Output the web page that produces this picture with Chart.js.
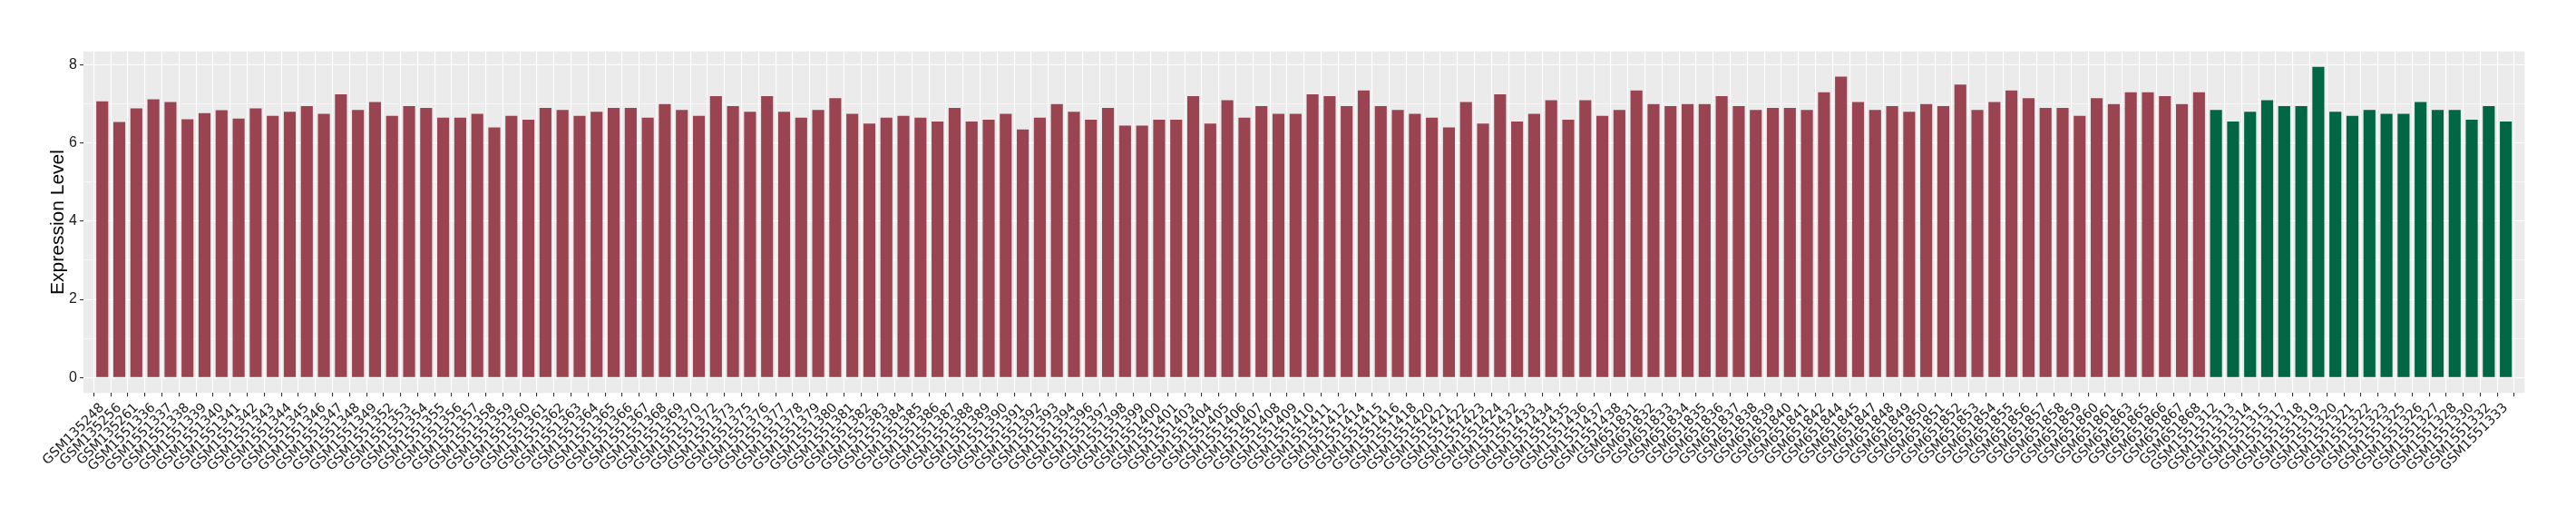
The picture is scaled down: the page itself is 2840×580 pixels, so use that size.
<!DOCTYPE html>
<html>
<head>
<meta charset="utf-8">
<script src="https://cdn.jsdelivr.net/npm/chart.js@4.4.1/dist/chart.umd.min.js"></script>
<style>
  html, body { margin: 0; padding: 0; background: #ffffff; }
  #wrap { width: 2840px; height: 580px; }
</style>
</head>
<body>
<div id="wrap"><canvas id="c" width="2840" height="580"></canvas></div>
<script>
const categories = [
  'GSM135248','GSM135256','GSM135261','GSM1551336','GSM1551337','GSM1551338','GSM1551339','GSM1551340','GSM1551341','GSM1551342',
  'GSM1551343','GSM1551344','GSM1551345','GSM1551346','GSM1551347','GSM1551348','GSM1551349','GSM1551352','GSM1551353','GSM1551354',
  'GSM1551355','GSM1551356','GSM1551357','GSM1551358','GSM1551359','GSM1551360','GSM1551361','GSM1551362','GSM1551363','GSM1551364',
  'GSM1551365','GSM1551366','GSM1551367','GSM1551368','GSM1551369','GSM1551370','GSM1551372','GSM1551373','GSM1551375','GSM1551376',
  'GSM1551377','GSM1551378','GSM1551379','GSM1551380','GSM1551381','GSM1551382','GSM1551383','GSM1551384','GSM1551385','GSM1551386',
  'GSM1551387','GSM1551388','GSM1551389','GSM1551390','GSM1551391','GSM1551392','GSM1551393','GSM1551394','GSM1551396','GSM1551397',
  'GSM1551398','GSM1551399','GSM1551400','GSM1551401','GSM1551403','GSM1551404','GSM1551405','GSM1551406','GSM1551407','GSM1551408',
  'GSM1551409','GSM1551410','GSM1551411','GSM1551412','GSM1551414','GSM1551415','GSM1551416','GSM1551418','GSM1551420','GSM1551421',
  'GSM1551422','GSM1551423','GSM1551424','GSM1551432','GSM1551433','GSM1551434','GSM1551435','GSM1551436','GSM1551437','GSM1551438',
  'GSM651831','GSM651832','GSM651833','GSM651834','GSM651835','GSM651836','GSM651837','GSM651838','GSM651839','GSM651840',
  'GSM651841','GSM651842','GSM651844','GSM651845','GSM651847','GSM651848','GSM651849','GSM651850','GSM651851','GSM651852',
  'GSM651853','GSM651854','GSM651855','GSM651856','GSM651857','GSM651858','GSM651859','GSM651860','GSM651861','GSM651863',
  'GSM651865','GSM651866','GSM651867','GSM651868',
  'GSM1551312','GSM1551313','GSM1551314','GSM1551315','GSM1551317','GSM1551318','GSM1551319','GSM1551320','GSM1551321','GSM1551322',
  'GSM1551323','GSM1551325','GSM1551326','GSM1551327','GSM1551328','GSM1551330','GSM1551332','GSM1551333'
];

const expressionValues = [
  7.07, 6.54, 6.89, 7.12, 7.05, 6.61, 6.77, 6.84, 6.63, 6.89,
  6.70, 6.80, 6.95, 6.75, 7.25, 6.85, 7.05, 6.70, 6.95, 6.90,
  6.65, 6.65, 6.75, 6.40, 6.70, 6.60, 6.90, 6.85, 6.70, 6.80,
  6.90, 6.90, 6.65, 7.00, 6.85, 6.70, 7.20, 6.95, 6.80, 7.20,
  6.80, 6.65, 6.85, 7.15, 6.75, 6.50, 6.65, 6.70, 6.65, 6.55,
  6.90, 6.55, 6.60, 6.75, 6.35, 6.65, 7.00, 6.80, 6.60, 6.90,
  6.45, 6.45, 6.60, 6.60, 7.20, 6.50, 7.10, 6.65, 6.95, 6.75,
  6.75, 7.25, 7.20, 6.95, 7.35, 6.95, 6.85, 6.75, 6.65, 6.40,
  7.05, 6.50, 7.25, 6.55, 6.75, 7.10, 6.60, 7.10, 6.70, 6.85,
  7.35, 7.00, 6.95, 7.00, 7.00, 7.20, 6.95, 6.85, 6.90, 6.90,
  6.85, 7.30, 7.70, 7.05, 6.85, 6.95, 6.80, 7.00, 6.95, 7.50,
  6.85, 7.05, 7.35, 7.15, 6.90, 6.90, 6.70, 7.15, 7.00, 7.30,
  7.30, 7.20, 7.00, 7.30,
  6.85, 6.55, 6.80, 7.10, 6.95, 6.95, 7.95, 6.80, 6.70, 6.85,
  6.75, 6.75, 7.05, 6.85, 6.85, 6.60, 6.95, 6.55
];

// number of samples in the first (red) group; the rest are the second (green) group
const firstGroupCount = 124;
const groupColors = ['#9A4452', '#006644'];

const yTickValues = [0, 2, 4, 6, 8];

const W = 2840, H = 580;
const PANEL = { left: 92, right: 2783.4, top: 56.7, bottom: 433.3 };

const points = expressionValues.map((v, i) => ({ x: i, y: v }));
const barColors = expressionValues.map((v, i) => i < firstGroupCount ? groupColors[0] : groupColors[1]);

const n = categories.length;
const yMaxData = Math.max(...expressionValues);
const yMin = -0.05 * yMaxData;
const yMax = yMaxData * 1.05;

const panelBg = {
  id: 'panelBg',
  beforeDraw(chart) {
    const { ctx, chartArea } = chart;
    ctx.save();
    ctx.fillStyle = '#EBEBEB';
    ctx.fillRect(chartArea.left, chartArea.top, chartArea.right - chartArea.left, chartArea.bottom - chartArea.top);
    ctx.restore();
  }
};

new Chart(document.getElementById('c'), {
  type: 'bar',
  data: {
    datasets: [{
      data: points,
      backgroundColor: barColors,
      borderWidth: 0,
      barPercentage: 0.7,
      categoryPercentage: 1.0
    }]
  },
  options: {
    responsive: false,
    animation: false,
    devicePixelRatio: 1,
    layout: { padding: { left: 0, top: PANEL.top, right: W - PANEL.right, bottom: 0 } },
    plugins: { legend: { display: false }, tooltip: { enabled: false } },
    scales: {
      x: {
        type: 'linear',
        min: -0.6,
        max: n - 1 + 0.6,
        afterFit(s) { s.height = H - PANEL.bottom; },
        border: { display: false },
        grid: { color: '#FFFFFF', lineWidth: 1.1, tickColor: '#333333', tickWidth: 1.1, tickLength: 4 },
        ticks: {
          stepSize: 1,
          includeBounds: false,
          autoSkip: false,
          maxRotation: 45,
          minRotation: 45,
          padding: 4,
          color: '#1A1A1A',
          font: { family: 'DejaVu Sans', size: 14.6 },
          callback: (v) => Number.isInteger(v) && v >= 0 && v < n ? categories[v] : ''
        }
      },
      y: {
        type: 'linear',
        min: yMin,
        max: yMax,
        afterFit(s) { s.width = PANEL.left; },
        border: { display: false },
        grid: {
          color: '#FFFFFF',
          lineWidth: (c) => (yTickValues.includes(c.tick.value) ? 1.1 : 0.55),
          tickColor: (c) => (yTickValues.includes(c.tick.value) ? '#333333' : 'rgba(0,0,0,0)'),
          tickWidth: 1.1,
          tickLength: 4
        },
        ticks: {
          stepSize: 1,
          includeBounds: false,
          padding: 3,
          color: '#1A1A1A',
          font: { family: 'Liberation Sans', size: 16 },
          callback: (v) => (yTickValues.includes(v) ? String(v) : '')
        },
        title: {
          display: true,
          text: 'Expression Level',
          color: '#000000',
          font: { family: 'Liberation Sans', size: 21 },
          padding: { top: 52, bottom: 0 }
        }
      }
    }
  },
  plugins: [panelBg]
});
</script>
</body>
</html>
